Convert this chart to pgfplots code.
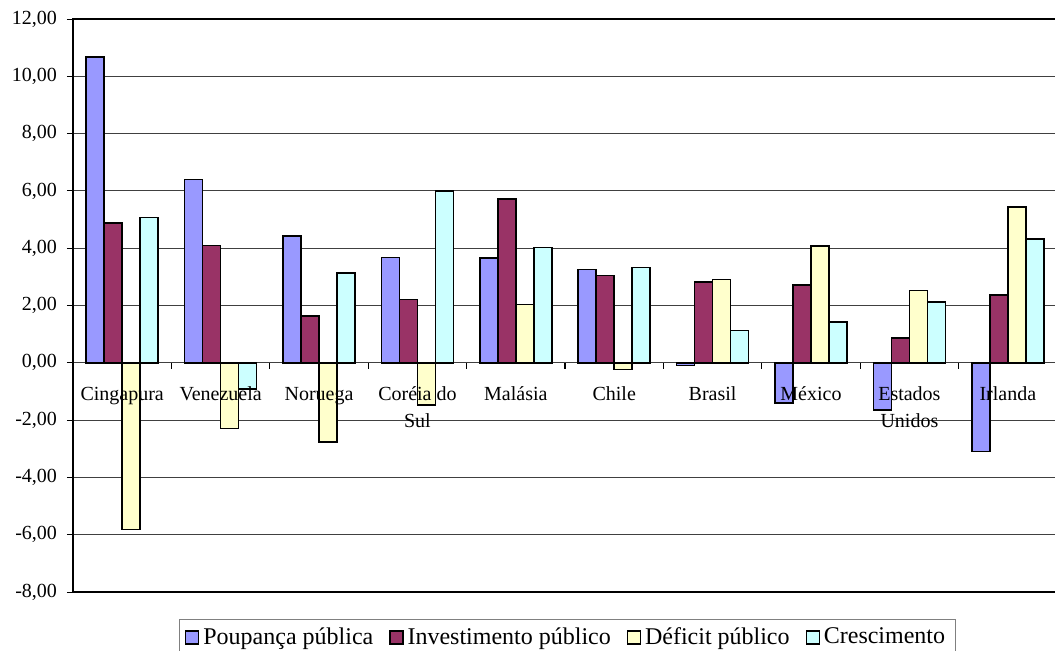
\documentclass[border=0pt]{standalone}
\usepackage{fontspec}
\setmainfont{Liberation Serif}
\usepackage{pgfplots}
\pgfplotsset{compat=1.18}
\definecolor{cP}{HTML}{9999FF}
\definecolor{cI}{HTML}{993366}
\definecolor{cD}{HTML}{FFFFCC}
\definecolor{cC}{HTML}{CCFFFF}
\pgfplotsset{
  sqlegend/.style={legend image code/.code={\draw[##1,draw=black,line width=0.6pt] (0pt,-3.25pt) rectangle (6.5pt,3.25pt);}}
}
\newcommand{\twoline}[2]{\begin{tabular}[t]{@{}c@{}}#1\\#2\end{tabular}}
\begin{document}
\begin{tikzpicture}
\path[use as bounding box] (0,0) rectangle (527.5pt,325pt);
\begin{axis}[
  at={(36.5pt,29pt)}, anchor=south west,
  scale only axis, width=492pt, height=286.5pt,
  xmin=-0.5, xmax=9.5, ymin=-8, ymax=12,
  xtick=\empty,
  ytick={-8,-6,...,12},
  ytick pos=left, ytick align=outside, major tick length=3pt,
  tick style={black, line width=0.5pt},
  ymajorgrids, grid style={black!75, line width=0.5pt},
  axis line style={black, line width=0.7pt},
  yticklabel style={font=\fontsize{10}{12}\selectfont, xshift=-1.5pt,
    /pgf/number format/fixed, /pgf/number format/fixed zerofill,
    /pgf/number format/precision=2, /pgf/number format/use comma,
    /pgf/number format/assume math mode=true},
  ybar=0pt, bar width=9pt,
  legend style={at={(0.5022,-0.0471)}, anchor=north, legend columns=-1,
    draw=black!50, line width=0.5pt, font=\fontsize{12}{14}\selectfont,
    /tikz/every even column/.append style={column sep=6pt}},
]
\addplot[fill=cP, draw=black, line width=0.75pt, sqlegend] coordinates {(0,10.67) (1,6.39) (2,4.42) (3,3.67) (4,3.65) (5,3.26) (6,-0.10) (7,-1.40) (8,-1.65) (9,-3.10)};
\addplot[fill=cI, draw=black, line width=0.75pt, sqlegend] coordinates {(0,4.88) (1,4.10) (2,1.64) (3,2.21) (4,5.71) (5,3.04) (6,2.82) (7,2.71) (8,0.87) (9,2.36)};
\addplot[fill=cD, draw=black, line width=0.75pt, sqlegend] coordinates {(0,-5.81) (1,-2.29) (2,-2.76) (3,-1.47) (4,2.04) (5,-0.24) (6,2.90) (7,4.08) (8,2.53) (9,5.44)};
\addplot[fill=cC, draw=black, line width=0.75pt, sqlegend] coordinates {(0,5.08) (1,-0.92) (2,3.13) (3,6.00) (4,4.03) (5,3.33) (6,1.13) (7,1.42) (8,2.13) (9,4.32)};
\legend{Poupança pública, Investimento público, Déficit público, Crescimento}
\end{axis}
\begin{axis}[
  at={(36.5pt,143.6pt)}, anchor=south west,
  scale only axis, width=492pt, height=171.9pt,
  xmin=-0.5, xmax=9.5, ymin=0, ymax=12,
  axis y line=none, axis x line*=bottom,
  x axis line style={-, draw=none},
  xtick={0,...,9},
  xticklabels={Cingapura, Venezuela, Noruega, {\twoline{Coréia do}{Sul}}, Malásia, Chile, Brasil, México, {\twoline{Estados}{Unidos}}, Irlanda},
  major tick length=0pt,
  minor xtick={0.5,1.5,...,8.5}, minor tick length=3pt,
  xtick align=outside,
  tick style={black, line width=0.6pt},
  xticklabel style={font=\fontsize{10}{13.5}\selectfont, anchor=base, yshift=-18.75pt},
]
\end{axis}
\end{tikzpicture}
\end{document}
